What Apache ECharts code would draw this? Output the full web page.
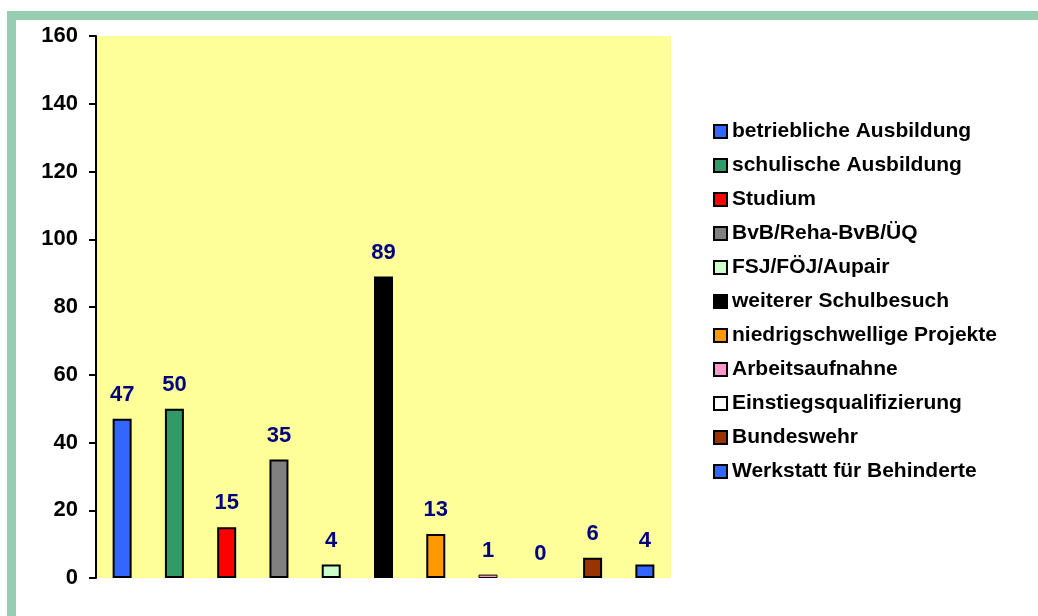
<!DOCTYPE html>
<html>
<head>
<meta charset="utf-8">
<script src="https://cdn.jsdelivr.net/npm/echarts@6/dist/echarts.min.js"></script>
<style>
  html, body { margin: 0; padding: 0; background: #fff; }
  #chart { width: 1038px; height: 616px; }
</style>
</head>
<body>
<div id="chart"></div>
<script>
// Kategorien (Legende) und Werte
const categories = [
  'betriebliche Ausbildung', 'schulische Ausbildung', 'Studium', 'BvB/Reha-BvB/ÜQ',
  'FSJ/FÖJ/Aupair', 'weiterer Schulbesuch', 'niedrigschwellige Projekte', 'Arbeitsaufnahne',
  'Einstiegsqualifizierung', 'Bundeswehr', 'Werkstatt für Behinderte'
];
const values = [47, 50, 15, 35, 4, 89, 13, 1, 0, 6, 4];
const colors = ['#3366FF', '#339966', '#FF0000', '#808080', '#CCFFCC', '#000000',
  '#FF9900', '#FF99CC', '#FFFFFF', '#993300', '#3366FF'];
const yTicks = [0, 20, 40, 60, 80, 100, 120, 140, 160];

const chart = echarts.init(document.getElementById('chart'));

// je Kategorie eine Serie, damit die Legende jede Farbe zeigt
const series = categories.map((name, i) => ({
  name,
  type: 'bar',
  stack: 'all',
  barWidth: 19,
  data: values.map((v, j) => {
    if (j !== i) return '-';
    if (v === 0) return { value: v, itemStyle: { borderWidth: 0 } };
    // sehr flacher Balken: duennerer Rand, damit die Fuellfarbe sichtbar bleibt
    if (v < 2) return { value: v, itemStyle: { borderWidth: 1 } };
    return v;
  }),
  itemStyle: { color: colors[i], borderColor: '#000', borderWidth: 2 },
  label: {
    show: true,
    position: 'top',
    distance: 13,
    color: '#000080',
    fontFamily: 'Liberation Sans, Arial, sans-serif',
    fontWeight: 'bold',
    fontSize: 22
  },
  emphasis: { disabled: true },
  animation: false
}));

chart.setOption({
  backgroundColor: '#fff',
  graphic: [
    { type: 'rect', shape: { x: 7, y: 11, width: 9, height: 605 }, style: { fill: '#97CDB1' } },
    { type: 'rect', shape: { x: 7, y: 11, width: 1031, height: 9 }, style: { fill: '#97CDB1' } }
  ],
  grid: {
    left: 96, right: 367, top: 36, bottom: 38,
    show: true, backgroundColor: '#FFFF99', borderWidth: 0
  },
  legend: {
    orient: 'vertical',
    left: 713,
    top: 121,
    padding: 0,
    itemWidth: 13,
    itemHeight: 13,
    itemGap: 13,
    icon: 'rect',
    selectedMode: false,
    data: categories,
    textStyle: {
      color: '#000',
      fontFamily: 'Liberation Sans, Arial, sans-serif',
      fontWeight: 'bold',
      fontSize: 21
    }
  },
  xAxis: {
    type: 'category',
    data: categories,
    axisLine: { show: false },
    axisTick: { show: false },
    axisLabel: { show: false },
    splitLine: { show: false }
  },
  yAxis: {
    type: 'value',
    min: yTicks[0],
    max: yTicks[yTicks.length - 1],
    interval: 20,
    axisLine: { show: true, lineStyle: { color: '#000', width: 2 } },
    axisTick: { show: true, length: 7, lineStyle: { color: '#000', width: 2 } },
    axisLabel: {
      color: '#000',
      fontFamily: 'Liberation Sans, Arial, sans-serif',
      fontWeight: 'bold',
      fontSize: 22,
      margin: 18
    },
    splitLine: { show: false }
  },
  series
});
</script>
</body>
</html>
